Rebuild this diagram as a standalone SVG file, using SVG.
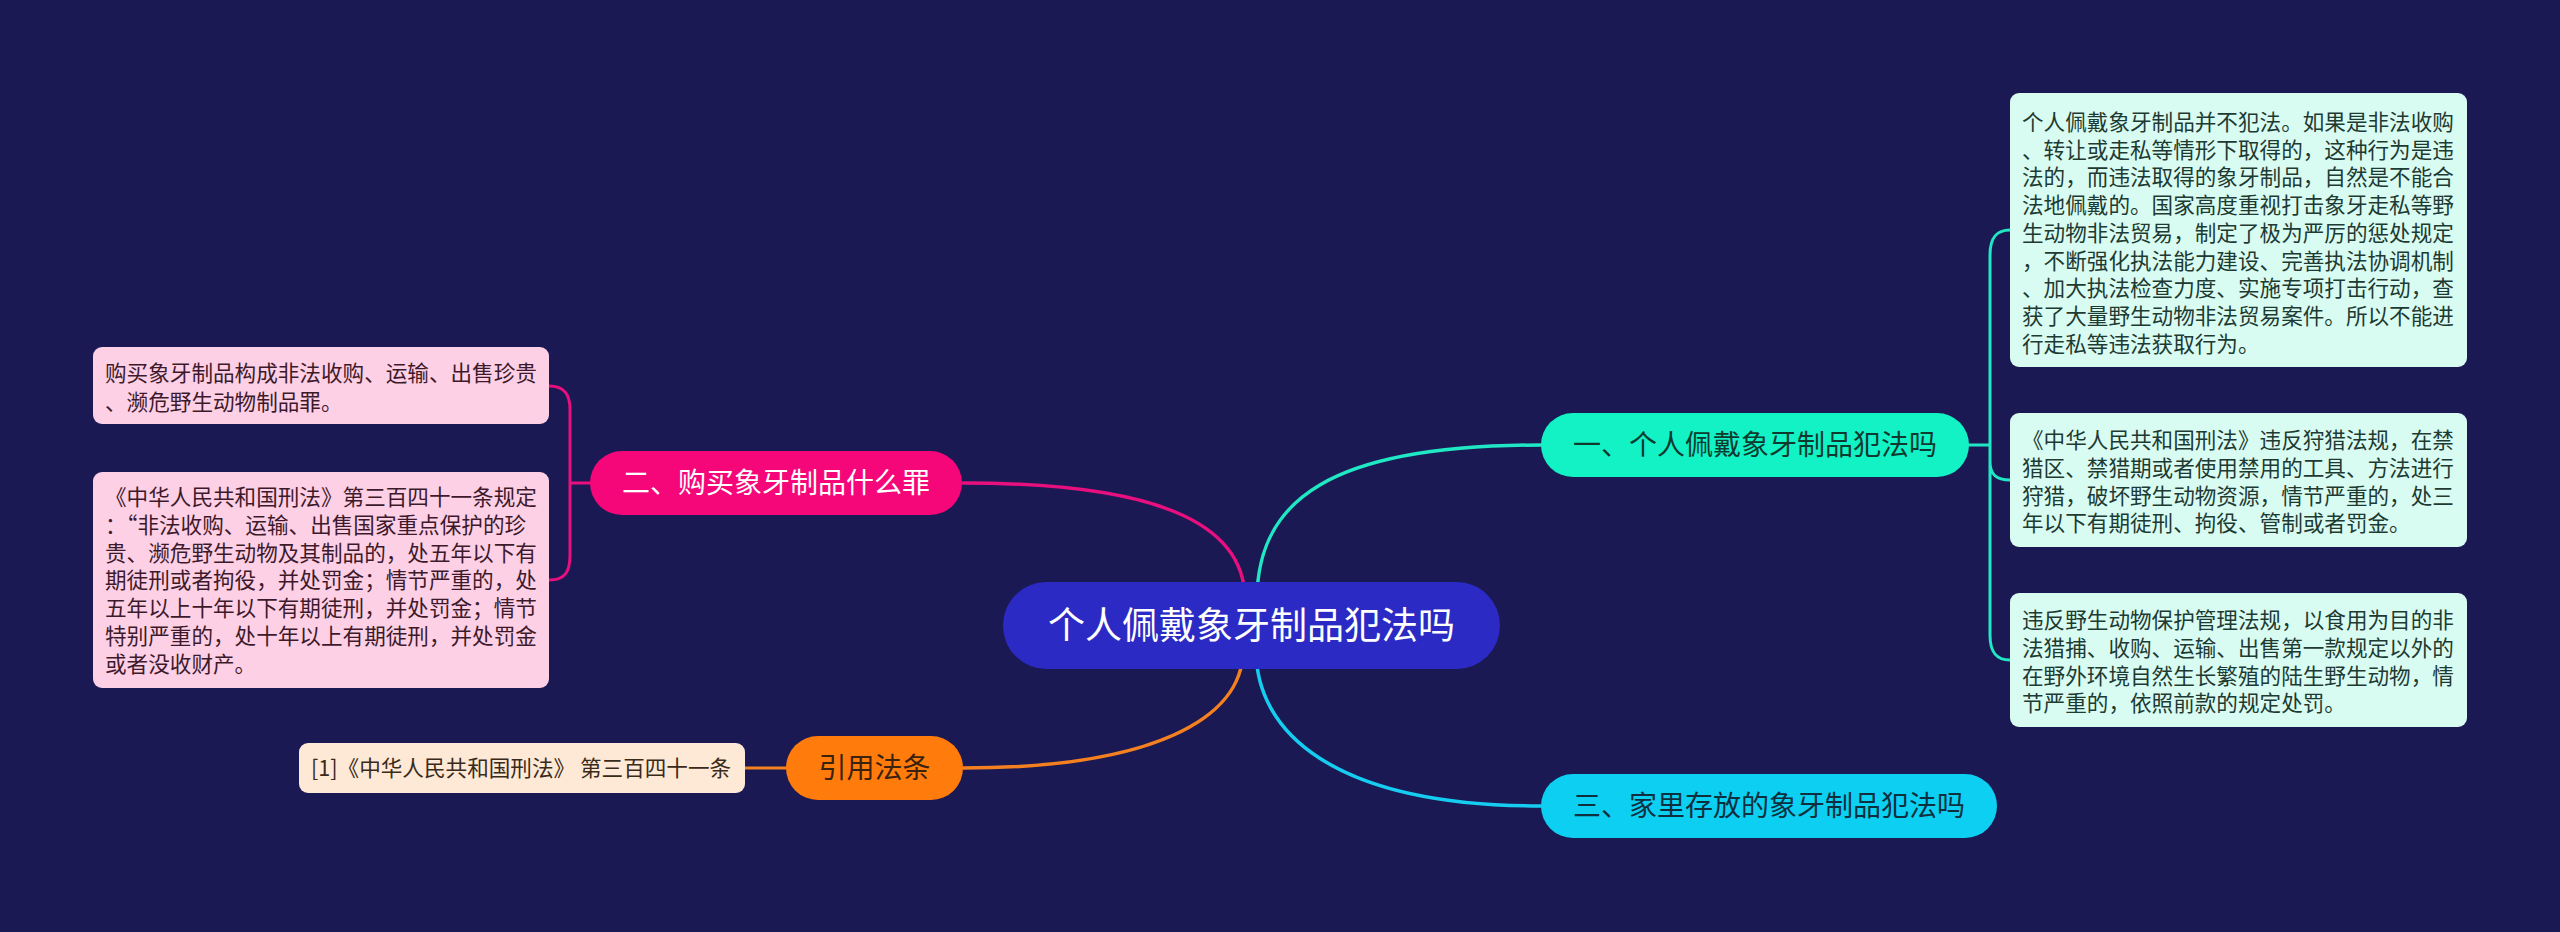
<svg xmlns="http://www.w3.org/2000/svg" width="2560" height="932" viewBox="0 0 2560 932">
<style>
text{font-family:"Noto Sans CJK SC","Noto Sans",sans-serif}
.leaf{font-size:21.6px}
.topic{font-size:28px;text-anchor:middle}
.rl rect{fill:#d9fcf2}
.rl text{fill:#1d3a33}
.ll rect{fill:#fdd0e6}
.ll text{fill:#3d1a2b}
.c{fill:none;stroke-linecap:round}
</style>
<rect width="2560" height="932" fill="#1b1954"/>
<g id="connectors">
<path class="c" stroke="#e80f7e" stroke-width="3.5" d="M963 483 C1150 483 1245 520 1245 600"/>
<path class="c" stroke="#20e8c4" stroke-width="3.5" d="M1257 600 C1257 500 1330 445 1541 445"/>
<path class="c" stroke="#f58020" stroke-width="3.5" d="M963 768 C1150 768 1243 720 1243 650"/>
<path class="c" stroke="#15cdf0" stroke-width="3.5" d="M1256 650 C1256 730 1330 806 1541 806"/>
<path class="c" stroke="#20e8c4" stroke-width="3" d="M1969 445 H1990 M1990 445 V255 C1990 238 1996 230 2010 230 M1990 445 V462 C1990 474 1996 480 2010 480 M1990 445 V635 C1990 652 1996 660 2010 660"/>
<path class="c" stroke="#e80f7e" stroke-width="3" d="M590 483 H570 M570 483 V410 C570 395 565 386 549 386 M570 483 V555 C570 572 565 580 549 580"/>
<path class="c" stroke="#f58020" stroke-width="3" d="M745 768 H786"/>
</g>
<g id="central">
<rect x="1003" y="582" width="497" height="87" rx="43.5" fill="#2b2ac4"/>
<text x="1251.5" y="639" font-size="37" text-anchor="middle" fill="#ffffff">个人佩戴象牙制品犯法吗</text>
</g>
<g id="topic1">
<rect x="1541" y="413" width="428" height="64" rx="32" fill="#12f2c5"/>
<text class="topic" x="1755" y="455" fill="#0f3a30">一、个人佩戴象牙制品犯法吗</text>
</g>
<g id="topic3">
<rect x="1541" y="774" width="456" height="64" rx="32" fill="#0ccff2"/>
<text class="topic" x="1769" y="816" fill="#0e2f3e">三、家里存放的象牙制品犯法吗</text>
</g>
<g id="topic2">
<rect x="590" y="451" width="372" height="64" rx="32" fill="#f5077a"/>
<text class="topic" x="776" y="493" fill="#ffffff">二、购买象牙制品什么罪</text>
</g>
<g id="topic4">
<rect x="786" y="736" width="177" height="64" rx="32" fill="#ff7b0b"/>
<text class="topic" x="874.5" y="778" fill="#3a220e">引用法条</text>
</g>
<g id="leaf-r1" class="rl">
<rect x="2010" y="93" width="457" height="274" rx="9"/>
<text class="leaf" x="2022" y="130"><tspan x="2022">个人佩戴象牙制品并不犯法。如果是非法收购</tspan><tspan x="2022" dy="27.7">、转让或走私等情形下取得的，这种行为是违</tspan><tspan x="2022" dy="27.7">法的，而违法取得的象牙制品，自然是不能合</tspan><tspan x="2022" dy="27.7">法地佩戴的。国家高度重视打击象牙走私等野</tspan><tspan x="2022" dy="27.7">生动物非法贸易，制定了极为严厉的惩处规定</tspan><tspan x="2022" dy="27.7">，不断强化执法能力建设、完善执法协调机制</tspan><tspan x="2022" dy="27.7">、加大执法检查力度、实施专项打击行动，查</tspan><tspan x="2022" dy="27.7">获了大量野生动物非法贸易案件。所以不能进</tspan><tspan x="2022" dy="27.7">行走私等违法获取行为。</tspan></text>
</g>
<g id="leaf-r2" class="rl">
<rect x="2010" y="413" width="457" height="134" rx="9"/>
<text class="leaf" x="2022" y="448"><tspan x="2022">《中华人民共和国刑法》违反狩猎法规，在禁</tspan><tspan x="2022" dy="27.8">猎区、禁猎期或者使用禁用的工具、方法进行</tspan><tspan x="2022" dy="27.8">狩猎，破坏野生动物资源，情节严重的，处三</tspan><tspan x="2022" dy="27.8">年以下有期徒刑、拘役、管制或者罚金。</tspan></text>
</g>
<g id="leaf-r3" class="rl">
<rect x="2010" y="593" width="457" height="134" rx="9"/>
<text class="leaf" x="2022" y="628"><tspan x="2022">违反野生动物保护管理法规，以食用为目的非</tspan><tspan x="2022" dy="27.8">法猎捕、收购、运输、出售第一款规定以外的</tspan><tspan x="2022" dy="27.8">在野外环境自然生长繁殖的陆生野生动物，情</tspan><tspan x="2022" dy="27.8">节严重的，依照前款的规定处罚。</tspan></text>
</g>
<g id="leaf-l1" class="ll">
<rect x="93" y="347" width="456" height="77" rx="9"/>
<text class="leaf" x="105" y="381"><tspan x="105">购买象牙制品构成非法收购、运输、出售珍贵</tspan><tspan x="105" dy="28.5">、濒危野生动物制品罪。</tspan></text>
</g>
<g id="leaf-l2" class="ll">
<rect x="93" y="472" width="456" height="216" rx="9"/>
<text class="leaf" x="105" y="505"><tspan x="105">《中华人民共和国刑法》第三百四十一条规定</tspan><tspan x="105" dy="27.8">：“非法收购、运输、出售国家重点保护的珍</tspan><tspan x="105" dy="27.8">贵、濒危野生动物及其制品的，处五年以下有</tspan><tspan x="105" dy="27.8">期徒刑或者拘役，并处罚金；情节严重的，处</tspan><tspan x="105" dy="27.8">五年以上十年以下有期徒刑，并处罚金；情节</tspan><tspan x="105" dy="27.8">特别严重的，处十年以上有期徒刑，并处罚金</tspan><tspan x="105" dy="27.8">或者没收财产。</tspan></text>
</g>
<g id="leaf-ref">
<rect x="299" y="743" width="446" height="50" rx="9" fill="#fee9d6"/>
<text x="311" y="776" font-size="21.6" fill="#3a2a1a">[1]《中华人民共和国刑法》 第三百四十一条</text>
</g>
</svg>
